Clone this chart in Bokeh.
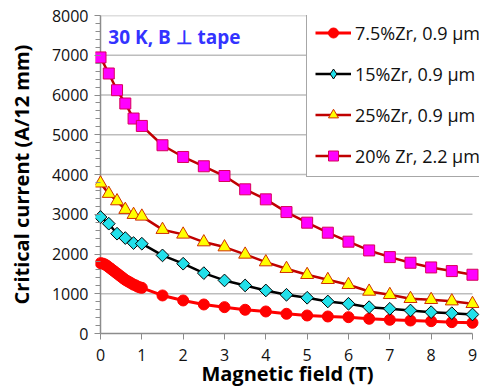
import math
from bokeh.plotting import figure
from bokeh.models import Range1d, Label, Legend, LegendItem, FixedTicker, Span
from bokeh.embed import file_html
from bokeh.resources import INLINE

# ---- data ----
field_75 = [0.0, 0.05, 0.1, 0.15, 0.2, 0.25, 0.3, 0.35, 0.4, 0.45, 0.5, 0.55, 0.6,
            0.65, 0.7, 0.75, 0.8, 0.85, 0.9, 0.95, 1.0,
            1.5, 2.0, 2.5, 3.0, 3.5, 4.0, 4.5, 5.0, 5.5, 6.0, 6.5, 7.0, 7.5, 8.0, 8.5, 9.0]
ic_75 = [1770, 1760, 1740, 1710, 1670, 1630, 1590, 1550, 1510, 1470, 1430, 1390, 1350,
         1320, 1290, 1260, 1230, 1210, 1180, 1160, 1150,
         957, 831, 730, 663, 597, 554, 496, 453, 428, 411, 370, 345, 327, 310, 285, 270]

field = [0.0, 0.2, 0.4, 0.6, 0.8, 1.0, 1.5, 2.0, 2.5, 3.0, 3.5, 4.0, 4.5, 5.0, 5.5,
         6.0, 6.5, 7.0, 7.5, 8.0, 8.5, 9.0]
ic_15 = [2930, 2763, 2511, 2401, 2275, 2259, 1965, 1756, 1519, 1335, 1209, 1083, 974,
         899, 806, 748, 663, 622, 579, 537, 511, 479]
ic_25 = [3780, 3519, 3332, 3116, 2989, 2947, 2612, 2494, 2300, 2174, 1990, 1797, 1630,
         1478, 1352, 1226, 1058, 974, 874, 849, 814, 748]
ic_20 = [6945, 6541, 6121, 5786, 5408, 5222, 4736, 4441, 4207, 3962, 3627, 3375, 3055,
         2788, 2536, 2310, 2090, 1922, 1780, 1662, 1570, 1478]

labels = ["7.5%Zr, 0.9 µm", "15%Zr, 0.9 µm", "25%Zr, 0.9 µm", "20% Zr, 2.2 µm"]
x_ticks = [0, 1, 2, 3, 4, 5, 6, 7, 8, 9]
y_ticks = [0, 1000, 2000, 3000, 4000, 5000, 6000, 7000, 8000]
y_minor = list(range(0, 8001, 200))
title_text = "30 K, B ⊥ tape"

FONT = "Open Sans"
AXIS_GREY = "#8c8c8c"

p = figure(width=501, height=392, output_backend="svg", toolbar_location=None,
           x_range=Range1d(-0.121, 9.17), y_range=Range1d(0, 8000),
           min_border_left=95, min_border_right=22, min_border_top=15, min_border_bottom=59)
p.outline_line_color = None
p.background_fill_color = "white"
p.border_fill_color = "white"
p.xgrid.visible = False
p.ygrid.visible = False

# horizontal grid lines spanning the data range
p.segment(x0=[x_ticks[0]] * (len(y_ticks) - 1), x1=[x_ticks[-1]] * (len(y_ticks) - 1),
          y0=y_ticks[1:], y1=y_ticks[1:], line_color="#bdbdbd", line_width=1.3,
          level="underlay")
# vertical axis line at x = 0
p.add_layout(Span(location=x_ticks[0], dimension="height", line_color=AXIS_GREY,
                  line_width=1.5, level="underlay"))

# axes
ax = p.xaxis[0]
ax.ticker = FixedTicker(ticks=x_ticks)
ax.bounds = (x_ticks[0], x_ticks[-1])
ax.axis_line_color = AXIS_GREY
ax.axis_line_width = 1.5
ax.major_tick_line_color = AXIS_GREY
ax.major_tick_out = 6
ax.major_tick_in = 0
ax.minor_tick_line_color = None
ax.major_label_text_font = FONT
ax.major_label_text_font_size = "16px"
ax.major_label_text_color = "#111111"
ax.major_label_standoff = 9
ax.axis_label = "Magnetic field (T)"
ax.axis_label_text_font = FONT
ax.axis_label_text_font_style = "bold"
ax.axis_label_text_font_size = "20px"
ax.axis_label_text_color = "#000000"
ax.axis_label_standoff = -4

ay = p.yaxis[0]
ay.ticker = FixedTicker(ticks=y_ticks, minor_ticks=y_minor)
ay.axis_line_color = None
ay.major_tick_line_color = AXIS_GREY
ay.major_tick_out = 1
ay.major_tick_in = 5
ay.minor_tick_line_color = AXIS_GREY
ay.minor_tick_out = 0
ay.minor_tick_in = 5
ay.major_label_text_font = FONT
ay.major_label_text_font_size = "16px"
ay.major_label_text_color = "#111111"
ay.major_label_standoff = 6
ay.axis_label = "Critical current (A/12 mm)"
ay.axis_label_text_font = FONT
ay.axis_label_text_font_style = "bold"
ay.axis_label_text_font_size = "20px"
ay.axis_label_text_color = "#000000"
ay.axis_label_standoff = 14

# series
l1 = p.line(field_75, ic_75, line_color="#ff0000", line_width=3)
s1 = p.scatter(field_75, ic_75, marker="circle", size=11, fill_color="#ff0000",
               line_color="#ff0000")
l2 = p.line(field, ic_15, line_color="#000000", line_width=2.5)
# legend swatch (legend ignores marker rotation); hidden beneath the first real marker
s2_key = p.scatter(field[:1], ic_15[:1], marker="diamond", size=12,
                   fill_color="#22e0ea", line_color="#000000", line_width=1)
s2 = p.scatter(field, ic_15, marker="square", angle=math.pi / 4, size=9,
               fill_color="#22e0ea", line_color="#000000", line_width=1)
l3 = p.line(field, ic_25, line_color="#c00000", line_width=2.5)
s3 = p.scatter(field, ic_25, marker="triangle", size=13, fill_color="#ffff00",
               line_color="#d03000", line_width=1)
l4 = p.line(field, ic_20, line_color="#c00000", line_width=2.5)
s4 = p.scatter(field, ic_20, marker="square", size=11, fill_color="#ff00ff",
               line_color="#d8005a", line_width=1)

legend = Legend(items=[LegendItem(label=labels[0], renderers=[l1, s1]),
                       LegendItem(label=labels[1], renderers=[l2, s2_key]),
                       LegendItem(label=labels[2], renderers=[l3, s3]),
                       LegendItem(label=labels[3], renderers=[l4, s4])],
                location=(211, 156), padding=8, spacing=16, margin=0,
                glyph_width=36, glyph_height=25, label_height=25, label_standoff=4,
                label_text_font=FONT, label_text_font_size="18px",
                label_text_color="#111111",
                border_line_color="#505050", border_line_width=1,
                background_fill_color="white", background_fill_alpha=1.0)
p.add_layout(legend)

p.add_layout(Label(x=0.19, y=7450, text=title_text, text_font=FONT,
                   text_font_style="bold", text_font_size="19px",
                   text_color="#3333ff", text_baseline="middle"))

open("out.html", "w").write(file_html(p, INLINE))
